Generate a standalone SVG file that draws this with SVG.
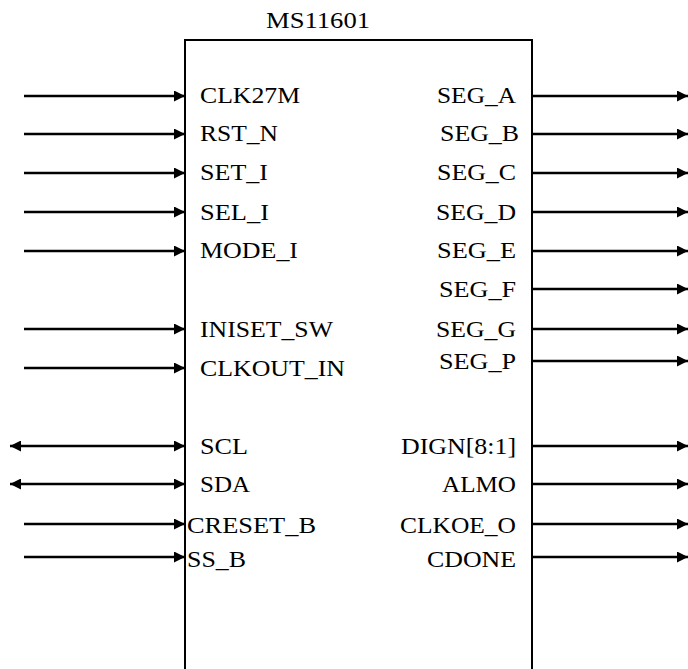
<svg xmlns="http://www.w3.org/2000/svg" width="688" height="669" viewBox="0 0 688 669">
<defs>
<marker id="ah" markerUnits="userSpaceOnUse" markerWidth="11" markerHeight="11" refX="10" refY="5" orient="auto-start-reverse" viewBox="0 0 10 10">
<path d="M0,0 L10,5 L0,10 z" fill="#000"/>
</marker>
<style>
text{font-family:"Liberation Serif","Times New Roman",serif;font-size:23px;fill:#000}
.w{stroke:#000;stroke-width:2.5;fill:none;marker-end:url(#ah)}
.b{marker-start:url(#ah)}
</style>
</defs>
<rect width="688" height="669" fill="#fff"/>
<g id="chip">
<rect x="185" y="40" width="347" height="660" fill="#fff" stroke="#000" stroke-width="2"/>
<text x="266" y="28" textLength="104" lengthAdjust="spacingAndGlyphs">MS11601</text>
</g>
<g id="connectors">
<line class="w" x1="24" y1="96" x2="185" y2="96"/>
<line class="w" x1="24" y1="134" x2="185" y2="134"/>
<line class="w" x1="24" y1="173" x2="185" y2="173"/>
<line class="w" x1="24" y1="212" x2="185" y2="212"/>
<line class="w" x1="24" y1="251" x2="185" y2="251"/>
<line class="w" x1="24" y1="329" x2="185" y2="329"/>
<line class="w" x1="24" y1="368" x2="185" y2="368"/>
<line class="w b" x1="10" y1="446" x2="185" y2="446"/>
<line class="w b" x1="10" y1="484" x2="185" y2="484"/>
<line class="w" x1="24" y1="524" x2="185" y2="524"/>
<line class="w" x1="24" y1="557" x2="185" y2="557"/>
<line class="w" x1="532" y1="96" x2="688" y2="96"/>
<line class="w" x1="532" y1="134" x2="688" y2="134"/>
<line class="w" x1="532" y1="173" x2="688" y2="173"/>
<line class="w" x1="532" y1="212" x2="688" y2="212"/>
<line class="w" x1="532" y1="251" x2="688" y2="251"/>
<line class="w" x1="532" y1="289" x2="688" y2="289"/>
<line class="w" x1="532" y1="329" x2="688" y2="329"/>
<line class="w" x1="532" y1="361" x2="688" y2="361"/>
<line class="w" x1="532" y1="446" x2="688" y2="446"/>
<line class="w" x1="532" y1="484" x2="688" y2="484"/>
<line class="w" x1="532" y1="524" x2="688" y2="524"/>
<line class="w" x1="532" y1="557" x2="688" y2="557"/>
</g>
<g id="inputs">
<text x="200" y="103" textLength="100" lengthAdjust="spacingAndGlyphs">CLK27M</text>
<text x="200" y="141" textLength="78" lengthAdjust="spacingAndGlyphs">RST_N</text>
<text x="200" y="180" textLength="68" lengthAdjust="spacingAndGlyphs">SET_I</text>
<text x="200" y="220" textLength="69" lengthAdjust="spacingAndGlyphs">SEL_I</text>
<text x="200" y="258" textLength="98" lengthAdjust="spacingAndGlyphs">MODE_I</text>
<text x="200" y="337" textLength="133" lengthAdjust="spacingAndGlyphs">INISET_SW</text>
<text x="200" y="376" textLength="145" lengthAdjust="spacingAndGlyphs">CLKOUT_IN</text>
<text x="200" y="454" textLength="48" lengthAdjust="spacingAndGlyphs">SCL</text>
<text x="200" y="492" textLength="50" lengthAdjust="spacingAndGlyphs">SDA</text>
<text x="187" y="533" textLength="129" lengthAdjust="spacingAndGlyphs">CRESET_B</text>
<text x="187" y="567" textLength="59" lengthAdjust="spacingAndGlyphs">SS_B</text>
</g>
<g id="outputs">
<text x="437" y="103" textLength="79" lengthAdjust="spacingAndGlyphs">SEG_A</text>
<text x="440" y="141" textLength="79" lengthAdjust="spacingAndGlyphs">SEG_B</text>
<text x="437" y="180" textLength="79" lengthAdjust="spacingAndGlyphs">SEG_C</text>
<text x="436" y="220" textLength="80" lengthAdjust="spacingAndGlyphs">SEG_D</text>
<text x="437" y="258" textLength="79" lengthAdjust="spacingAndGlyphs">SEG_E</text>
<text x="439" y="297" textLength="77" lengthAdjust="spacingAndGlyphs">SEG_F</text>
<text x="436" y="337" textLength="80" lengthAdjust="spacingAndGlyphs">SEG_G</text>
<text x="439" y="369" textLength="77" lengthAdjust="spacingAndGlyphs">SEG_P</text>
<text x="401" y="454" textLength="115" lengthAdjust="spacingAndGlyphs">DIGN[8:1]</text>
<text x="442" y="492" textLength="74" lengthAdjust="spacingAndGlyphs">ALMO</text>
<text x="400" y="533" textLength="116" lengthAdjust="spacingAndGlyphs">CLKOE_O</text>
<text x="427" y="567" textLength="89" lengthAdjust="spacingAndGlyphs">CDONE</text>
</g>
</svg>
